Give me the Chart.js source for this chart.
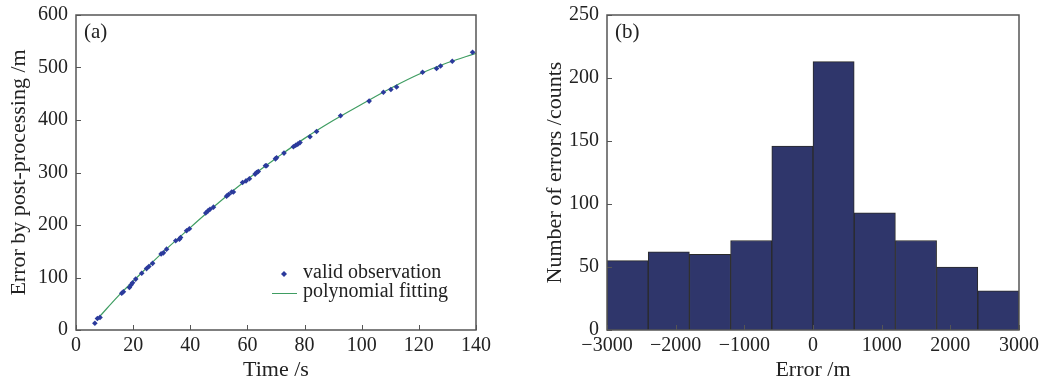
<!DOCTYPE html>
<html>
<head>
<meta charset="utf-8">
<script src="https://cdn.jsdelivr.net/npm/chart.js@4"></script>
<style>
    html, body { margin: 0; padding: 0; background: #fff; }
    #wrap { width: 1046px; height: 383px; position: relative; }
    .box { position: absolute; top: 0; height: 383px; }
    #boxA { left: 0; width: 520px; }
    #boxB { left: 520px; width: 526px; }
</style>
</head>
<body>
<div id="wrap">
    <div class="box" id="boxA"><canvas id="chartA"></canvas></div>
    <div class="box" id="boxB"><canvas id="chartB"></canvas></div>
</div>
<script>
const obsTime = [6.6, 7.5, 8.4, 16.0, 16.6, 18.7, 19.3, 19.8, 20.9, 23.0, 24.7, 25.5, 26.8,
    29.8, 30.6, 31.7, 34.9, 36.2, 36.6, 38.7, 39.7, 45.4, 46.2, 46.9, 48.1, 52.7, 53.4,
    54.5, 55.1, 58.3, 59.5, 60.7, 62.7, 63.2, 63.8, 66.3, 66.7, 69.8, 70.2, 72.8, 76.1,
    76.9, 77.6, 78.4, 81.9, 84.2, 92.6, 102.6, 107.6, 110.2, 112.2, 121.3, 126.2, 127.6,
    131.7, 138.8];
const obsError = [13, 22, 24, 70, 73, 81, 86, 90, 97, 108, 117, 121, 127,
    145, 147, 154, 170, 173, 176, 189, 193, 223, 227, 230, 234, 255, 258,
    263, 263, 281, 284, 288, 297, 300, 302, 313, 313, 326, 328, 337, 349,
    352, 354, 357, 368, 378, 408, 436, 453, 458, 463, 491, 498, 503,
    512, 529];

// (a) polynomial fitting curve
const fitTime = [8, 15, 20, 30, 40, 50, 60, 70, 80, 90, 100, 110, 120, 130, 140];
const fitError = [24, 66, 93, 146, 195, 243, 287, 327, 365, 399, 430, 460, 487, 509, 527];

// (b) histogram
const binStart = [-3000, -2400, -1800, -1200, -600, 0, 600, 1200, 1800, 2400];
const binWidth = 600;
const binCount = [55, 62, 60, 71, 146, 213, 93, 71, 50, 31];

const serif = "'Liberation Serif', 'DejaVu Serif', serif";
const axisColor = '#555';
const textColor = '#222';

// box around plot area + inward ticks + panel tag
const frame = {
    id: 'frame',
    afterDatasetsDraw(chart, args, opts) {
        const { ctx, chartArea: a, scales } = chart;
        ctx.save();
        ctx.strokeStyle = axisColor;
        ctx.lineWidth = 1.5;
        ctx.strokeRect(a.left, a.top, a.right - a.left, a.bottom - a.top);
        ctx.lineWidth = 1;
        ctx.beginPath();
        scales.x.ticks.forEach(t => {
            const px = Math.round(scales.x.getPixelForValue(t.value)) + 0.5;
            ctx.moveTo(px, a.bottom);
            ctx.lineTo(px, a.bottom - 5);
        });
        scales.y.ticks.forEach(t => {
            const py = Math.round(scales.y.getPixelForValue(t.value)) + 0.5;
            ctx.moveTo(a.left, py);
            ctx.lineTo(a.left + 5, py);
        });
        ctx.stroke();
        ctx.fillStyle = textColor;
        ctx.font = '21px ' + serif;
        ctx.textBaseline = 'middle';
        ctx.fillText(opts.tag, a.left + 8, a.top + 17);
        ctx.restore();
    }
};

// legend drawn inside panel (a)
const innerLegend = {
    id: 'innerLegend',
    afterDraw(chart) {
        if (chart.canvas.id !== 'chartA') return;
        const { ctx } = chart;
        const ds = chart.data.datasets;
        const tx = 303;
        ctx.save();
        ctx.font = '20px ' + serif;
        ctx.textBaseline = 'middle';
        // points
        ctx.fillStyle = ds[0].backgroundColor;
        ctx.beginPath();
        ctx.moveTo(284, 271); ctx.lineTo(287, 274); ctx.lineTo(284, 277); ctx.lineTo(281, 274);
        ctx.closePath(); ctx.fill();
        ctx.fillStyle = textColor;
        ctx.fillText(ds[0].label, tx, 273);
        // line
        ctx.strokeStyle = ds[1].borderColor;
        ctx.lineWidth = 1;
        ctx.beginPath();
        ctx.moveTo(272, 293.5); ctx.lineTo(297, 293.5);
        ctx.stroke();
        ctx.fillText(ds[1].label, tx, 292);
        ctx.restore();
    }
};

function yAxis(min, max, step, title, width, titlePad) {
    return {
        min: min, max: max,
        grid: { display: false, drawTicks: false },
        border: { display: false },
        ticks: { stepSize: step, padding: 8, color: textColor, font: { family: serif, size: 20 } },
        title: { display: true, text: title, color: textColor, font: { family: serif, size: 22 }, padding: { top: titlePad, bottom: 0 } },
        afterFit(s) {
            s.width = width;
            s.paddingTop = 0;
            s.paddingBottom = 0;
        }
    };
}

function xAxis(min, max, step, title) {
    return {
        type: 'linear',
        offset: false,
        min: min, max: max,
        grid: { display: false, drawTicks: false, offset: false },
        border: { display: false },
        ticks: {
            stepSize: step, padding: 4, color: textColor, maxRotation: 0,
            font: { family: serif, size: 20 },
            callback: v => (v < 0 ? '\u2212' + Math.abs(v) : String(v))
        },
        title: { display: true, text: title, color: textColor, font: { family: serif, size: 22 }, padding: { top: 2, bottom: 0 } },
        afterFit(s) { s.height = 53; }
    };
}

Chart.register(frame, innerLegend);

new Chart(document.getElementById('chartA'), {
    type: 'scatter',
    data: {
        datasets: [
            {
                label: 'valid observation',
                data: obsTime.map((t, i) => ({ x: t, y: obsError[i] })),
                backgroundColor: '#2b3a9c',
                borderColor: '#2b3a9c',
                pointStyle: 'rectRot',
                pointRadius: 2.8,
                borderWidth: 0
            },
            {
                label: 'polynomial fitting',
                data: fitTime.map((t, i) => ({ x: t, y: fitError[i] })),
                showLine: true,
                borderColor: '#3f9d62',
                borderWidth: 1.2,
                pointRadius: 0,
                tension: 0.4
            }
        ]
    },
    options: {
        responsive: true,
        maintainAspectRatio: false,
        animation: false,
        layout: { padding: { left: 0, right: 44, top: 15, bottom: 0 } },
        plugins: { legend: { display: false }, tooltip: { enabled: false }, frame: { tag: '(a)' } },
        scales: {
            x: xAxis(0, 140, 20, 'Time /s'),
            y: yAxis(0, 600, 100, 'Error by post-processing /m', 76, 6)
        }
    }
});

new Chart(document.getElementById('chartB'), {
    type: 'bar',
    data: {
        datasets: [{
            label: 'Number of errors',
            data: binStart.map((b, i) => ({ x: b + binWidth / 2, y: binCount[i] })),
            backgroundColor: '#2f366b',
            borderColor: '#2a2a2a',
            borderWidth: 1,
            barPercentage: 1,
            categoryPercentage: 1
        }]
    },
    options: {
        responsive: true,
        maintainAspectRatio: false,
        animation: false,
        layout: { padding: { left: 0, right: 27, top: 15, bottom: 0 } },
        plugins: { legend: { display: false }, tooltip: { enabled: false }, frame: { tag: '(b)' } },
        scales: {
            x: xAxis(-3000, 3000, 1000, 'Error /m'),
            y: yAxis(0, 250, 50, 'Number of errors /counts', 87, 22)
        }
    }
});
</script>
</body>
</html>
